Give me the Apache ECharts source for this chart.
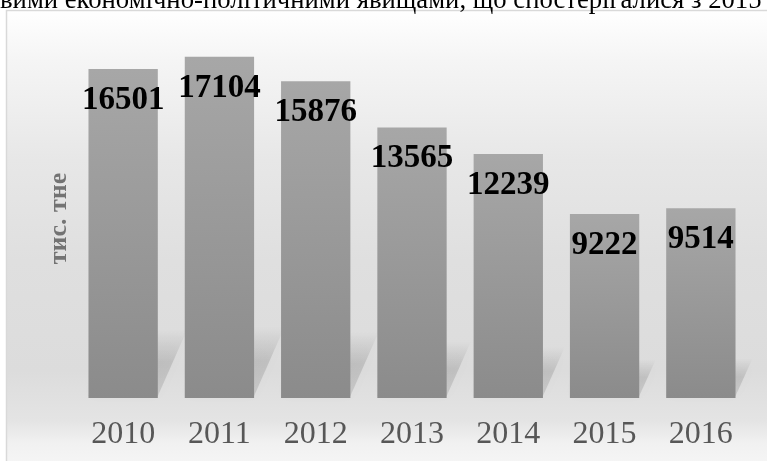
<!DOCTYPE html>
<html>
<head>
<meta charset="utf-8">
<script src="https://cdn.jsdelivr.net/npm/echarts@6/dist/echarts.min.js"></script>
<style>
html,body{margin:0;padding:0;background:#fff;}
#chart{width:767px;height:461px;}
</style>
</head>
<body>
<div id="chart"></div>
<script>
var years = ['2010', '2011', '2012', '2013', '2014', '2015', '2016'];
var values = [16501, 17104, 15876, 13565, 12239, 9222, 9514];
var yAxisName = 'тис. тне';
var topText = 'вими економічно-політичними явищами, що спостерігалися з 2015';

var chart = echarts.init(document.getElementById('chart'));
var serif = '"Liberation Serif", "Times New Roman", serif';

chart.setOption({
  animation: false,
  graphic: [
    {
      type: 'rect', z: -10, silent: true,
      shape: { x: 6.5, y: 10.5, width: 800, height: 500 },
      style: {
        fill: new echarts.graphic.LinearGradient(0, 0, 0, 1, [
          { offset: 0, color: '#ffffff' },
          { offset: 0.1, color: '#f5f5f5' },
          { offset: 0.3, color: '#e7e7e7' },
          { offset: 0.5, color: '#dfdfdf' },
          { offset: 0.72, color: '#dcdcdc' },
          { offset: 0.82, color: '#e4e4e4' },
          { offset: 0.865, color: '#f1f1f1' },
          { offset: 1, color: '#ffffff' }
        ]),
        stroke: '#d9d9d9', lineWidth: 1.5
      }
    },
    {
      type: 'text', z: 10, silent: true,
      x: 0, y: 1,
      style: {
        text: topText,
        font: '26.7px ' + serif,
        fill: '#000',
        verticalAlign: 'middle',
        align: 'left'
      }
    }
  ],
  grid: { left: 75, right: 18, top: 39, bottom: 63 },
  xAxis: {
    type: 'category',
    data: years,
    axisLine: { show: false },
    axisTick: { show: false },
    axisLabel: { color: '#575757', fontSize: 32, fontFamily: serif, margin: 21 }
  },
  yAxis: {
    type: 'value',
    min: 0, max: 18000,
    axisLabel: { show: false },
    axisLine: { show: false },
    axisTick: { show: false },
    splitLine: { show: false },
    name: yAxisName,
    nameLocation: 'middle',
    nameRotate: 90,
    nameGap: 3,
    nameTextStyle: { color: '#737373', fontSize: 26, fontWeight: 'bold', fontFamily: serif }
  },
  series: [
    {
      type: 'custom',
      z: 1,
      silent: true,
      data: values,
      renderItem: function (params, api) {
        var idx = api.value(0);
        var top = api.coord([idx, api.value(1)]);
        var base = api.coord([idx, 0]);
        var band = api.size([1, 0])[0];
        var w = band * 0.72;
        var h = base[1] - top[1];
        var x0 = base[0] - w / 2, x1 = base[0] + w / 2;
        var dx = 0.09 * h, dy = 0.21 * h;
        return {
          type: 'polygon',
          shape: { points: [[x0, base[1] - 2], [x1, base[1] - 2], [x1 + dx, base[1] - dy], [x0 + dx, base[1] - dy]] },
          style: {
            fill: new echarts.graphic.LinearGradient(0, 1, 0, 0, [
              { offset: 0, color: 'rgba(0,0,0,0.10)' },
              { offset: 0.5, color: 'rgba(0,0,0,0.12)' },
              { offset: 1, color: 'rgba(0,0,0,0.0)' }
            ]),
            shadowBlur: 12, shadowColor: 'rgba(0,0,0,0.15)'
          }
        };
      },
      encode: { x: 0, y: 1 }
    },
    {
      type: 'bar',
      z: 3,
      data: values,
      barWidth: '72%',
      itemStyle: {
        color: new echarts.graphic.LinearGradient(0, 0, 0, 1, [
          { offset: 0, color: '#a7a7a7' },
          { offset: 1, color: '#8b8b8b' }
        ])
      },
      label: {
        show: true,
        position: 'insideTop',
        distance: 15,
        color: '#000',
        fontSize: 33,
        fontWeight: 'bold',
        fontFamily: serif
      }
    }
  ]
});
</script>
</body>
</html>
